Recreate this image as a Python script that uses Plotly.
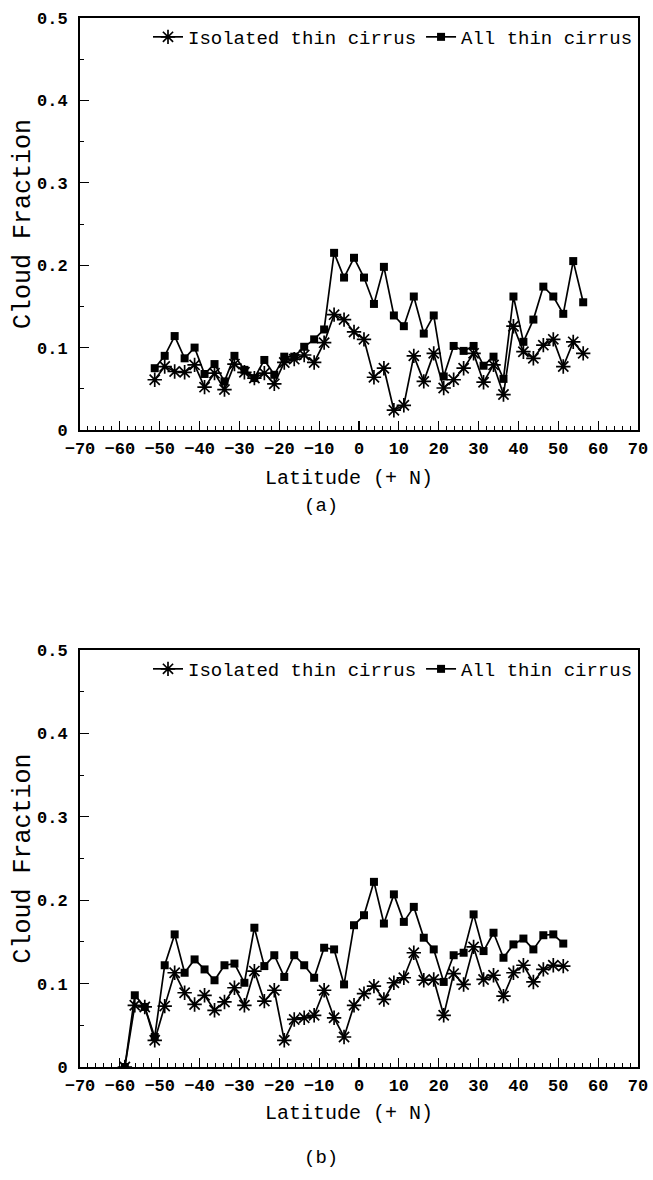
import plotly.graph_objects as go

# ---------------- data ----------------
lat_a = [-51.25, -48.75, -46.25, -43.75, -41.25, -38.75, -36.25, -33.75, -31.25, -28.75,
         -26.25, -23.75, -21.25, -18.75, -16.25, -13.75, -11.25, -8.75, -6.25, -3.75,
         -1.25, 1.25, 3.75, 6.25, 8.75, 11.25, 13.75, 16.25, 18.75, 21.25,
         23.75, 26.25, 28.75, 31.25, 33.75, 36.25, 38.75, 41.25, 43.75, 46.25,
         48.75, 51.25, 53.75, 56.25]
isolated_a = [0.061, 0.077, 0.071, 0.070, 0.079, 0.052, 0.069, 0.049, 0.080, 0.070,
              0.063, 0.069, 0.056, 0.082, 0.086, 0.091, 0.082, 0.106, 0.140, 0.134,
              0.119, 0.110, 0.064, 0.075, 0.024, 0.030, 0.090, 0.059, 0.093, 0.051,
              0.061, 0.075, 0.093, 0.058, 0.079, 0.043, 0.126, 0.095, 0.087, 0.103,
              0.110, 0.077, 0.107, 0.093]
all_a = [0.075, 0.090, 0.114, 0.087, 0.100, 0.068, 0.080, 0.059, 0.090, 0.073,
         0.063, 0.085, 0.067, 0.089, 0.089, 0.101, 0.110, 0.122, 0.215, 0.185,
         0.209, 0.185, 0.153, 0.198, 0.139, 0.126, 0.162, 0.117, 0.139, 0.065,
         0.102, 0.096, 0.102, 0.078, 0.089, 0.062, 0.162, 0.107, 0.134, 0.174,
         0.162, 0.141, 0.205, 0.155]

lat_b = [-58.75, -56.25, -53.75, -51.25, -48.75, -46.25, -43.75, -41.25, -38.75, -36.25,
         -33.75, -31.25, -28.75, -26.25, -23.75, -21.25, -18.75, -16.25, -13.75, -11.25,
         -8.75, -6.25, -3.75, -1.25, 1.25, 3.75, 6.25, 8.75, 11.25, 13.75,
         16.25, 18.75, 21.25, 23.75, 26.25, 28.75, 31.25, 33.75, 36.25, 38.75,
         41.25, 43.75, 46.25, 48.75, 51.25]
isolated_b = [0.000, 0.074, 0.072, 0.032, 0.073, 0.113, 0.089, 0.075, 0.086, 0.068,
              0.078, 0.095, 0.074, 0.115, 0.079, 0.092, 0.032, 0.057, 0.059, 0.062,
              0.092, 0.059, 0.036, 0.074, 0.088, 0.097, 0.081, 0.101, 0.107, 0.137,
              0.104, 0.105, 0.062, 0.112, 0.099, 0.144, 0.105, 0.110, 0.085, 0.113,
              0.122, 0.102, 0.117, 0.122, 0.121]
all_b = [0.000, 0.086, 0.072, 0.036, 0.122, 0.159, 0.113, 0.129, 0.117, 0.104,
         0.122, 0.124, 0.101, 0.167, 0.121, 0.134, 0.108, 0.134, 0.122, 0.107,
         0.143, 0.141, 0.099, 0.170, 0.182, 0.222, 0.172, 0.207, 0.174, 0.192,
         0.155, 0.141, 0.102, 0.134, 0.137, 0.183, 0.139, 0.161, 0.131, 0.147,
         0.154, 0.141, 0.158, 0.159, 0.148]

x_tickvals = [-70, -60, -50, -40, -30, -20, -10, 0, 10, 20, 30, 40, 50, 60, 70]
x_ticktext = ["\u221270", "\u221260", "\u221250", "\u221240", "\u221230", "\u221220", "\u221210",
              "0", "10", "20", "30", "40", "50", "60", "70"]
y_tickvals = [0, 0.1, 0.2, 0.3, 0.4, 0.5]
y_ticktext = ["0", "0.1", "0.2", "0.3", "0.4", "0.5"]

series_names = ["Isolated thin cirrus", "All thin cirrus"]
x_title = "Latitude (+ N)"
y_title = "Cloud Fraction"
panel_labels = ["(a)", "(b)"]

# ---------------- layout geometry (pixels) ----------------
W, H = 653, 1180
L, R, T, B = 80, 15, 18, 113
plot_h = H - T - B
top_dom = [(1067 - 430) / plot_h, 1.0]
bot_dom = [0.0, (1067 - 650) / plot_h]

FONT = "Liberation Mono"

fig = go.Figure()

def add_pair(lat, iso, allv, xa, ya, legend):
    fig.add_trace(go.Scatter(
        x=lat, y=iso, mode="lines+markers", name=series_names[0],
        xaxis=xa, yaxis=ya, legend=legend,
        line=dict(color="black", width=1.7),
        marker=dict(symbol="asterisk-open", size=12, color="black",
                    line=dict(color="black", width=1.7)),
    ))
    fig.add_trace(go.Scatter(
        x=lat, y=allv, mode="lines+markers", name=series_names[1],
        xaxis=xa, yaxis=ya, legend=legend,
        line=dict(color="black", width=1.7),
        marker=dict(symbol="square", size=8, color="black"),
    ))

add_pair(lat_a, isolated_a, all_a, "x", "y", "legend")
add_pair(lat_b, isolated_b, all_b, "x2", "y2", "legend2")

tick_font = dict(family=FONT, size=17, color="black", weight="bold")

xaxis_common = dict(
    range=[-70, 70], tickmode="array", tickvals=x_tickvals, ticktext=x_ticktext,
    ticks="inside", ticklen=9, tickwidth=1.2, tickcolor="black", tickangle=0,
    minor=dict(tickmode="linear", tick0=0, dtick=2, ticks="inside", ticklen=4,
               tickwidth=1, tickcolor="black"),
    showline=True, linecolor="black", linewidth=2, mirror=True,
    showgrid=False, zeroline=False, ticklabelstandoff=2,
    ticklabeloverflow="allow",
    tickfont=tick_font,
    domain=[0, 1],
)
yaxis_common = dict(
    range=[0, 0.5], tickmode="array", tickvals=y_tickvals, ticktext=y_ticktext,
    ticks="inside", ticklen=9, tickwidth=1.2, tickcolor="black",
    minor=dict(tickmode="linear", tick0=0, dtick=0.05, ticks="inside", ticklen=4,
               tickwidth=1, tickcolor="black"),
    showline=True, linecolor="black", linewidth=2, mirror=True,
    showgrid=False, zeroline=False, ticklabelstandoff=7,
    ticklabeloverflow="allow",
    tickfont=tick_font,
)

legend_font = dict(family=FONT, size=19, color="black")

fig.update_layout(
    width=W, height=H,
    margin=dict(l=L, r=R, t=T, b=B, autoexpand=False),
    paper_bgcolor="white", plot_bgcolor="white",
    showlegend=True,
    xaxis=dict(**xaxis_common, anchor="y"),
    yaxis=dict(**yaxis_common, domain=top_dom, anchor="x"),
    xaxis2=dict(**xaxis_common, anchor="y2"),
    yaxis2=dict(**yaxis_common, domain=bot_dom, anchor="x2"),
    legend=dict(orientation="h", x=1, xanchor="right", y=1, yanchor="top",
                bgcolor="rgba(0,0,0,0)", itemwidth=30, tracegroupgap=0,
                font=legend_font),
    legend2=dict(orientation="h", x=1, xanchor="right", y=bot_dom[1],
                 yanchor="top", bgcolor="rgba(0,0,0,0)", itemwidth=30,
                 tracegroupgap=0, font=legend_font),
)

def py(pix):
    return (H - B - pix) / plot_h

def px(pix):
    return (pix - L) / (W - L - R)

title_font = dict(family=FONT, size=20, color="black")
ytitle_font = dict(family=FONT, size=25, color="black")
annotations = []
for (ytop, ybot, xt_y, lab_y, lab) in [(18, 430, 479, 506, panel_labels[0]),
                                       (650, 1067, 1113, 1158, panel_labels[1])]:
    annotations.append(dict(text=y_title, textangle=-90, xref="paper", yref="paper",
                            x=px(23), y=py((ytop + ybot) / 2),
                            xanchor="center", yanchor="middle", showarrow=False,
                            font=ytitle_font))
    annotations.append(dict(text=x_title, xref="paper", yref="paper",
                            x=px(349), y=py(xt_y), xanchor="center",
                            yanchor="middle", showarrow=False, font=title_font))
    annotations.append(dict(text=lab, xref="paper", yref="paper",
                            x=px(321), y=py(lab_y), xanchor="center",
                            yanchor="middle", showarrow=False,
                            font=dict(family=FONT, size=19, color="black")))
fig.update_layout(annotations=annotations)

fig.write_html(
    "out.html",
    config={"displayModeBar": False, "staticPlot": True},
    post_script="document.body.style.margin='0';document.body.style.padding='0';"
                "document.documentElement.style.overflow='hidden';",
)
